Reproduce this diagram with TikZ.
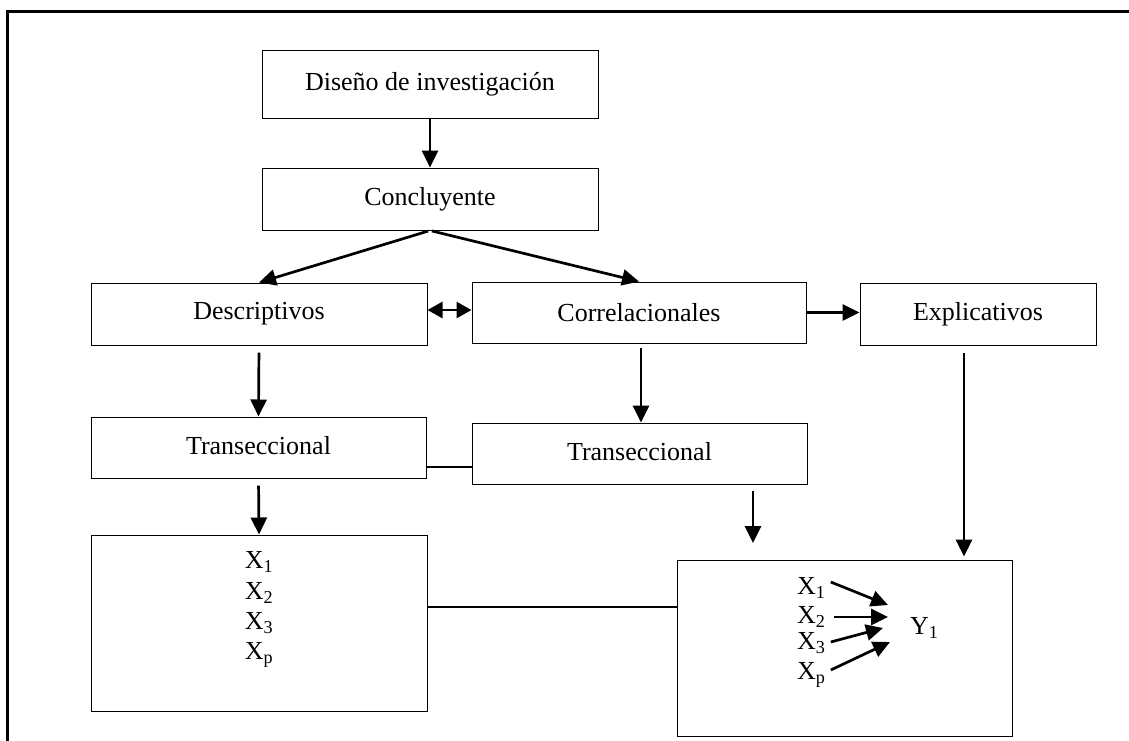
\documentclass[tikz,border=0pt]{standalone}
\usepackage{fontspec}
\setmainfont{Liberation Serif}
\usetikzlibrary{arrows.meta,calc}
\begin{document}
\begin{tikzpicture}[x=1pt,y=-1pt,
  txt/.style={font=\fontsize{26}{31}\selectfont},
  box/.style={draw, line width=1pt, rectangle, inner sep=0pt, txt},
  lbl/.style={inner sep=0pt, txt},
  conn/.style={line width=2.7pt, -{Triangle[length=17pt,width=16pt]}},
  dbl/.style={line width=2.7pt, {Triangle[length=15pt,width=16pt]}-{Triangle[length=15pt,width=16pt]}},
  link/.style={line width=2pt}]
\useasboundingbox (0,0) rectangle (1129,740);

% outer frame (top and left sides)
\draw[line width=3pt] (7,741) -- (7,11) -- (1130,11);

% boxes
\node[box, minimum width=336pt, minimum height=68pt] (dis) at (430,84) {Diseño de investigación};
\node[box, minimum width=336pt, minimum height=62pt] (con) at (430,199) {Concluyente};
\node[box, minimum width=336pt, minimum height=62pt] (des) at (259,314) {Descriptivos};
\node[box, minimum width=334pt, minimum height=61pt] (cor) at (639,312.5) {Correlacionales};
\node[box, minimum width=236pt, minimum height=62pt] (exp) at (978,314) {Explicativos};
\node[box, minimum width=335pt, minimum height=61pt] (tr1) at (258.5,447.5) {\raisebox{4pt}{Transeccional}};
\node[box, minimum width=335pt, minimum height=61pt] (tr2) at (639.5,453.5) {\raisebox{4pt}{Transeccional}};
\node[box, minimum width=336pt, minimum height=176pt] (xl) at (259,623) {};
\node[box, minimum width=335pt, minimum height=176pt] (rb) at (844.5,648) {};

% variables in the left box
\node[lbl] (lx1) at (259,562) {X\textsubscript{1}};
\node[lbl] (lx2) at (259,593) {X\textsubscript{2}};
\node[lbl] (lx3) at (259,623) {X\textsubscript{3}};
\node[lbl] (lxp) at (259,655) {X\textsubscript{p}};

% variables in the right box
\node[lbl, anchor=west] (rx1) at (797,588) {X\textsubscript{1}};
\node[lbl, anchor=west] (rx2) at (797,617) {X\textsubscript{2}};
\node[lbl, anchor=west] (rx3) at (797,643) {X\textsubscript{3}};
\node[lbl, anchor=west] (rxp) at (797,675) {X\textsubscript{p}};
\node[lbl, anchor=west] (y1) at (910,628) {Y\textsubscript{1}};

% helper coordinates
\coordinate (dc) at ($(des.east)+(0,-4)$);
\coordinate (tl) at (0,467);
\coordinate (bl) at (0,607);
\coordinate (t2b) at (753,543);
\coordinate (ex) at (964,0);

% connectors
\draw[conn] (dis.south) -- (con.north);
\draw[conn, shorten <=2pt] (con.south) -- (des.north);
\draw[conn, shorten <=2pt] (con.south) -- (cor.north);
\draw[dbl] (dc) -- (dc -| cor.west);
\draw[conn] (cor.east) -- (cor.east -| exp.west);
\draw[conn, shorten <=7pt] (des.south) -- (tr1.north);
\draw[conn, shorten <=4pt] ($(cor.south)+(2,0)$) -- ($(tr2.north)+(1.5,0)$);
\draw[conn, shorten <=7pt] (tr1.south) -- (xl.north);
\draw[conn, shorten <=6pt] (tr2.south -| t2b) -- (t2b);
\draw[conn, shorten <=7pt, shorten >=3pt] (exp.south -| ex) -- (rb.north -| ex);
\draw[link] (tr1.east |- tl) -- (tr2.west |- tl);
\draw[link] (xl.east |- bl) -- (rb.west |- bl);

% arrows towards Y1
\draw[conn] ($(rx1.east)+(5,-6)$) -- ($(y1.west)+(-22,-23)$);
\draw[conn] ($(rx2.east)+(8,0)$) -- ($(y1.west)+(-22,-11)$);
\draw[conn] ($(rx3.east)+(5,-1)$) -- ($(y1.west)+(-27,0)$);
\draw[conn] ($(rxp.east)+(5,-5)$) -- ($(y1.west)+(-20,14)$);
\end{tikzpicture}
\end{document}
